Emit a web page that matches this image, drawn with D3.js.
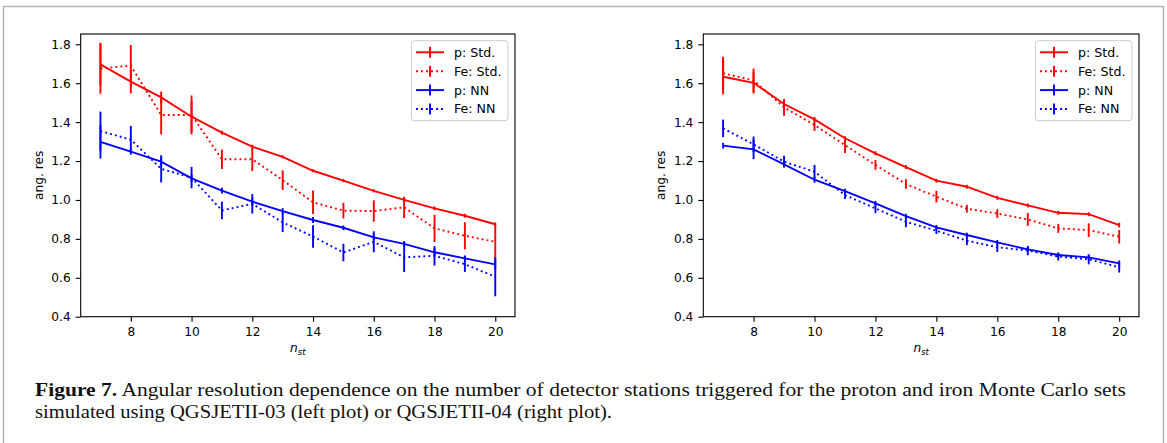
<!DOCTYPE html>
<html>
<head>
<meta charset="utf-8">
<script src="https://cdn.jsdelivr.net/npm/d3@7"></script>
<style>
body { margin: 0; background: #fff; }
svg text { font-family: "DejaVu Sans", sans-serif; }
</style>
</head>
<body>
<svg id="fig" width="1167" height="443"></svg>
<script>
// number of triggered stations (x categories)
const nst = [7, 8, 9, 10, 11, 12, 13, 14, 15, 16, 17, 18, 19, 20];
const xTicks = [8, 10, 12, 14, 16, 18, 20];
const yTicks = [0.4, 0.6, 0.8, 1.0, 1.2, 1.4, 1.6, 1.8];
const seriesNames = ['p: Std.', 'Fe: Std.', 'p: NN', 'Fe: NN'];

// left plot: QGSJETII-03
const leftPStd     = [1.697, 1.608, 1.527, 1.428, 1.346, 1.274, 1.222, 1.150, 1.099, 1.047, 1.000, 0.957, 0.919, 0.875];
const leftPStdErr  = [0.110, 0.060, 0.030, 0.080, 0.010, 0.010, 0.008, 0.008, 0.008, 0.008, 0.010, 0.010, 0.010, 0.010];
const leftFeStd    = [1.676, 1.690, 1.437, 1.437, 1.209, 1.209, 1.102, 0.988, 0.945, 0.943, 0.962, 0.854, 0.816, 0.785];
const leftFeStdErr = [0.130, 0.106, 0.100, 0.100, 0.050, 0.060, 0.050, 0.060, 0.040, 0.055, 0.055, 0.070, 0.070, 0.090];
const leftPNN      = [1.299, 1.248, 1.197, 1.111, 1.048, 0.991, 0.943, 0.897, 0.857, 0.808, 0.774, 0.731, 0.700, 0.669];
const leftPNNErr   = [0.086, 0.015, 0.020, 0.020, 0.015, 0.020, 0.015, 0.015, 0.012, 0.015, 0.015, 0.020, 0.015, 0.026];
const leftFeNN     = [1.354, 1.310, 1.160, 1.115, 0.946, 0.980, 0.885, 0.812, 0.730, 0.785, 0.705, 0.713, 0.670, 0.605];
const leftFeNNErr  = [0.100, 0.070, 0.070, 0.055, 0.045, 0.050, 0.050, 0.058, 0.045, 0.054, 0.075, 0.050, 0.040, 0.100];

// right plot: QGSJETII-04
const rightPStd     = [1.633, 1.602, 1.493, 1.414, 1.317, 1.240, 1.169, 1.099, 1.068, 1.011, 0.972, 0.934, 0.927, 0.871];
const rightPStdErr  = [0.090, 0.055, 0.015, 0.012, 0.010, 0.010, 0.010, 0.010, 0.010, 0.010, 0.010, 0.010, 0.010, 0.012];
const rightFeStd    = [1.651, 1.615, 1.476, 1.385, 1.282, 1.180, 1.082, 1.017, 0.955, 0.930, 0.900, 0.854, 0.845, 0.811];
const rightFeStdErr = [0.085, 0.060, 0.043, 0.030, 0.040, 0.025, 0.025, 0.030, 0.020, 0.022, 0.033, 0.023, 0.035, 0.035];
const rightPNN      = [1.279, 1.260, 1.183, 1.104, 1.046, 0.983, 0.917, 0.859, 0.820, 0.782, 0.746, 0.717, 0.705, 0.674];
const rightPNNErr   = [0.015, 0.050, 0.015, 0.015, 0.012, 0.012, 0.012, 0.012, 0.012, 0.012, 0.012, 0.012, 0.012, 0.015];
const rightFeNN     = [1.368, 1.286, 1.197, 1.145, 1.025, 0.957, 0.888, 0.842, 0.791, 0.757, 0.740, 0.709, 0.695, 0.654];
const rightFeNNErr  = [0.045, 0.040, 0.030, 0.035, 0.020, 0.025, 0.028, 0.017, 0.023, 0.025, 0.024, 0.020, 0.026, 0.027];

const colours = ['#ff0000', '#ff0000', '#0000ff', '#0000ff'];
const dotted  = [false, true, false, true];

const svg = d3.select('#fig');

// grey page frame
svg.append('rect')
    .attr('x', 3.5).attr('y', 6.5)
    .attr('width', 1160).attr('height', 470)
    .attr('fill', 'none').attr('stroke', '#b4b4b4').attr('stroke-width', 1.5);

function drawPanel(x0, x1, vals, errs) {
    const top = 34, bottom = 316.7;
    const x = d3.scaleLinear().domain([6.35, 20.65]).range([x0, x1]);
    const y = d3.scaleLinear().domain([0.4, 1.853]).range([bottom, top]);
    const g = svg.append('g');

    vals.forEach((v, k) => {
        const sg = g.append('g');
        sg.append('path').datum(v)
            .attr('d', d3.line().x((d, i) => x(nst[i])).y(d => y(d)))
            .attr('fill', 'none')
            .attr('stroke', colours[k])
            .attr('stroke-width', 1.9)
            .attr('stroke-dasharray', dotted[k] ? '1.9,3.1' : null);
        sg.selectAll('line').data(v).join('line')
            .attr('x1', (d, i) => x(nst[i])).attr('x2', (d, i) => x(nst[i]))
            .attr('y1', (d, i) => y(d - errs[k][i]))
            .attr('y2', (d, i) => y(d + errs[k][i]))
            .attr('stroke', colours[k])
            .attr('stroke-width', 1.9);
    });

    // axes
    const xAxis = g.append('g').attr('transform', `translate(0,${bottom})`)
        .call(d3.axisBottom(x).tickValues(xTicks).tickSize(5).tickSizeOuter(0).tickPadding(6));
    const yAxis = g.append('g').attr('transform', `translate(${x0},0)`)
        .call(d3.axisLeft(y).tickValues(yTicks).tickFormat(d3.format('.1f')).tickSize(5).tickSizeOuter(0).tickPadding(5));
    [xAxis, yAxis].forEach(a => {
        a.select('.domain').remove();
        a.attr('font-size', null).attr('font-family', null);
        a.selectAll('line').attr('stroke', '#000').attr('stroke-width', 1.1);
        a.selectAll('text').attr('fill', '#000').style('font-size', '12.2px');
    });

    // spines
    g.append('rect')
        .attr('x', x0).attr('y', top)
        .attr('width', x1 - x0).attr('height', bottom - top)
        .attr('fill', 'none').attr('stroke', '#000').attr('stroke-width', 1.1);

    // axis labels
    const xl = g.append('text')
        .attr('x', (x0 + x1) / 2).attr('y', 352)
        .attr('text-anchor', 'middle')
        .style('font-size', '12.2px');
    xl.append('tspan').style('font-style', 'italic').text('n');
    xl.append('tspan').attr('dy', 3).style('font-size', '8.5px').style('font-style', 'italic').text('st');

    g.append('text')
        .attr('transform', `translate(${x0 - 38},${(top + bottom) / 2}) rotate(-90)`)
        .attr('text-anchor', 'middle')
        .style('font-size', '12.2px')
        .text('ang. res');

    // legend
    const lx = x1 - 103.5, ly = 40.7;
    const leg = g.append('g');
    leg.append('rect')
        .attr('x', lx).attr('y', ly).attr('width', 96.5).attr('height', 80)
        .attr('rx', 3)
        .attr('fill', '#fff').attr('fill-opacity', 0.8)
        .attr('stroke', '#cccccc').attr('stroke-width', 1);
    seriesNames.forEach((name, k) => {
        const cy = ly + 11.6 + k * 18.9;
        leg.append('line')
            .attr('x1', lx + 4.5).attr('x2', lx + 32.5).attr('y1', cy).attr('y2', cy)
            .attr('stroke', colours[k]).attr('stroke-width', 1.9)
            .attr('stroke-dasharray', dotted[k] ? '1.9,3.1' : null);
        leg.append('line')
            .attr('x1', lx + 18.5).attr('x2', lx + 18.5).attr('y1', cy - 5.5).attr('y2', cy + 5.5)
            .attr('stroke', colours[k]).attr('stroke-width', 1.9);
        leg.append('text')
            .attr('x', lx + 42.5).attr('y', cy + 4.4)
            .style('font-size', '12.6px')
            .text(name);
    });
}

drawPanel(80.7, 515, [leftPStd, leftFeStd, leftPNN, leftFeNN],
    [leftPStdErr, leftFeStdErr, leftPNNErr, leftFeNNErr]);
drawPanel(703.3, 1139, [rightPStd, rightFeStd, rightPNN, rightFeNN],
    [rightPStdErr, rightFeStdErr, rightPNNErr, rightFeNNErr]);

// caption
const cap1 = svg.append('text')
    .attr('x', 35).attr('y', 396)
    .attr('textLength', 1091).attr('lengthAdjust', 'spacingAndGlyphs')
    .style('font-family', '"Liberation Serif", serif').style('font-size', '19px').attr('fill', '#111');
cap1.append('tspan').style('font-weight', 'bold').text('Figure 7.');
cap1.append('tspan').text(' Angular resolution dependence on the number of detector stations triggered for the proton and iron Monte Carlo sets');
svg.append('text')
    .attr('x', 35).attr('y', 418)
    .attr('textLength', 577).attr('lengthAdjust', 'spacingAndGlyphs')
    .style('font-family', '"Liberation Serif", serif').style('font-size', '19px').attr('fill', '#111')
    .text('simulated using QGSJETII-03 (left plot) or QGSJETII-04 (right plot).');
</script>
</body>
</html>
